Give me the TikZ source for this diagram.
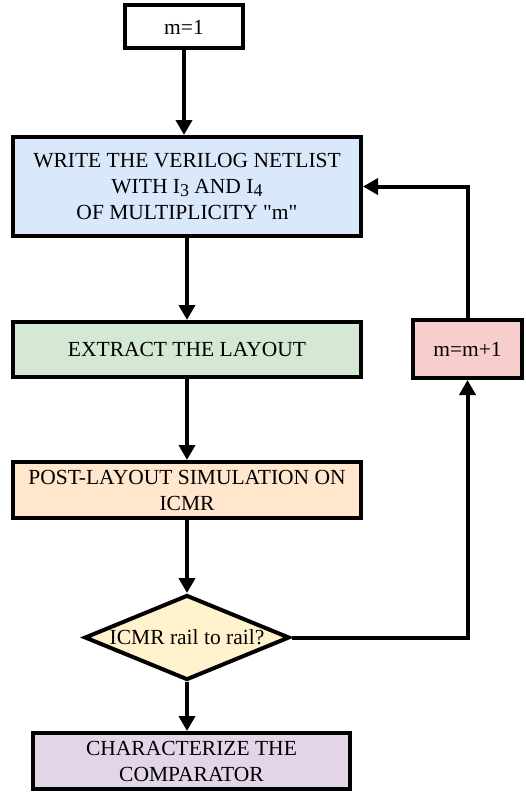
\documentclass[tikz,border=0pt]{standalone}
\usepackage{fontspec}
\setmainfont{Liberation Serif}
\usetikzlibrary{shapes.geometric, arrows.meta}
\definecolor{blueFill}{HTML}{DAE8FC}
\definecolor{greenFill}{HTML}{D5E8D4}
\definecolor{orangeFill}{HTML}{FFE6CC}
\definecolor{redFill}{HTML}{F8CECC}
\definecolor{yellowFill}{HTML}{FFF2CC}
\definecolor{purpleFill}{HTML}{E1D5E7}
\tikzstyle{stepbox} = [rectangle, draw=black, line width=4pt, align=center, inner sep=0pt, font=\fontsize{21.5}{26}\selectfont]
\tikzstyle{decision} = [diamond, draw=black, line width=4pt, fill=yellowFill, inner sep=0pt, minimum width=205pt, minimum height=85pt]
\tikzstyle{arrow} = [line width=4pt, -{Triangle[width=16pt,length=15pt]}]
\newcommand{\subI}[1]{I\raisebox{-0.35ex}{\fontsize{18}{18}\selectfont #1}}

\begin{document}
\begin{tikzpicture}[x=1pt, y=-1pt]
\useasboundingbox (0,0) rectangle (526,792);
\node[stepbox, minimum width=118pt, minimum height=43pt] (init) at (184,27) {m=1};
\node[stepbox, fill=blueFill, minimum width=348pt, minimum height=99pt] (netlist) at (187,186.5) {WRITE THE VERILOG NETLIST\\ WITH \subI{3} AND \subI{4}\\ OF MULTIPLICITY \textquotedbl m\textquotedbl};
\node[stepbox, fill=greenFill, minimum width=348pt, minimum height=55pt] (extract) at (187,349.5) {EXTRACT THE LAYOUT};
\node[stepbox, fill=orangeFill, minimum width=348pt, minimum height=56pt] (postsim) at (187,490) {POST-LAYOUT SIMULATION ON\\ ICMR};
\node[decision] (railcheck) at (187,637.5) {};
\node[font=\fontsize{21.5}{26}\selectfont] (railtext) at (railcheck) {ICMR rail to rail?};
\node[stepbox, fill=purpleFill, minimum width=317pt, minimum height=56pt] (charac) at (191.5,761) {CHARACTERIZE THE\\ COMPARATOR};
\node[stepbox, fill=redFill, minimum width=109pt, minimum height=58pt] (incr) at (467.5,349) {m=m+1};

\draw[arrow] (init.south) -- (init.south |- netlist.north);
\draw[arrow] (netlist.south) -- (extract.north);
\draw[arrow] (extract.south) -- (postsim.north);
\draw[arrow] (postsim.south) -- (railcheck.north);
\draw[arrow] (railcheck.south) -- (railcheck.south |- charac.north);
\draw[arrow] (railcheck.east) -| (incr.south);
\draw[arrow] (incr.north) |- (netlist.east);
\end{tikzpicture}
\end{document}
